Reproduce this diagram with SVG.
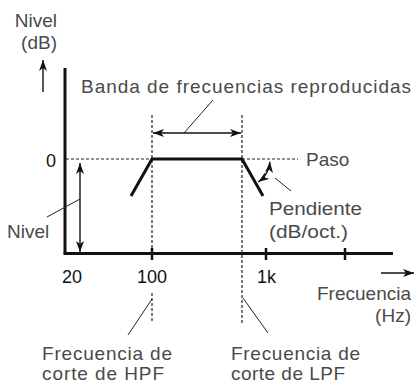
<svg xmlns="http://www.w3.org/2000/svg" width="416" height="384" viewBox="0 0 416 384">
<style>
.lbl{font-family:"Liberation Sans",Arial,sans-serif;font-size:19px;fill:#4a4a4a}
.num{font-family:"Liberation Sans",Arial,sans-serif;font-size:18px;fill:#111}
.thick{stroke:#111;stroke-width:3;fill:none}
.thin{stroke:#222;stroke-width:1;fill:none}
.dash{stroke:#222;stroke-width:1.2;fill:none;stroke-dasharray:3 2}
.arr{stroke:#111;stroke-width:1.4;fill:none}
</style>
<defs>
<marker id="ah" markerUnits="userSpaceOnUse" markerWidth="13" markerHeight="10" refX="11" refY="4" orient="auto-start-reverse" viewBox="0 0 13 10">
<path d="M0,0 L11,4 L0,8 L3,4 z" fill="#111"/>
</marker>
</defs>
<g id="axes">
<line class="thick" x1="65" y1="68" x2="65" y2="253.5"/>
<line class="thick" x1="63.5" y1="253.5" x2="393" y2="253.5"/>
<line class="thick" x1="152" y1="248" x2="152" y2="260" style="stroke-width:2.5"/>
<line class="thick" x1="266" y1="248" x2="266" y2="260" style="stroke-width:2.5"/>
<line class="thick" x1="345" y1="248" x2="345" y2="260" style="stroke-width:2.5"/>
</g>
<g id="connectors">
<line class="arr" x1="43" y1="92" x2="43" y2="60" marker-end="url(#ah)"/>
<line class="arr" x1="381" y1="273" x2="414" y2="273" marker-end="url(#ah)"/>
<line class="dash" x1="152" y1="115" x2="152" y2="252"/>
<line class="dash" x1="152" y1="293" x2="152" y2="323"/>
<line class="dash" x1="242" y1="115" x2="242" y2="323"/>
<line class="dash" x1="66" y1="159" x2="152" y2="159"/>
<line class="dash" x1="242" y1="159" x2="298" y2="159"/>
<line class="arr" x1="153" y1="133" x2="241" y2="133" marker-start="url(#ah)" marker-end="url(#ah)"/>
<line class="thin" x1="184" y1="133" x2="213" y2="100"/>
<line class="arr" x1="80" y1="163" x2="80" y2="252" marker-start="url(#ah)" marker-end="url(#ah)"/>
<line class="thin" x1="47" y1="217" x2="80" y2="199"/>
<path class="arr" d="M258.3,182 A28,28 0 0 0 270,161.7" marker-start="url(#ah)" marker-end="url(#ah)"/>
<line class="thin" x1="275" y1="178" x2="291" y2="191"/>
<line class="thin" x1="152" y1="299" x2="128" y2="335"/>
<line class="thin" x1="243" y1="298" x2="268" y2="333"/>
</g>
<g id="curve">
<polyline class="thick" points="131,196 152,159 242,159 263,196" stroke-linejoin="miter"/>
</g>
<g id="labels">
<text class="lbl" x="57" y="27" text-anchor="end">Nivel</text>
<text class="lbl" x="57" y="49" text-anchor="end">(dB)</text>
<text class="lbl" x="81" y="93" textLength="330" lengthAdjust="spacing">Banda de frecuencias reproducidas</text>
<text class="num" x="46" y="167">0</text>
<text class="lbl" x="306" y="166">Paso</text>
<text class="lbl" x="269" y="215" textLength="93" lengthAdjust="spacingAndGlyphs">Pendiente</text>
<text class="lbl" x="269" y="238" textLength="79" lengthAdjust="spacingAndGlyphs">(dB/oct.)</text>
<text class="lbl" x="7" y="238">Nivel</text>
<text class="num" x="62" y="283">20</text>
<text class="num" x="137" y="283">100</text>
<text class="num" x="257" y="283">1k</text>
<text class="lbl" x="411" y="300" text-anchor="end">Frecuencia</text>
<text class="lbl" x="411" y="322" text-anchor="end">(Hz)</text>
<text class="lbl" x="42" y="360" textLength="130" lengthAdjust="spacing">Frecuencia de</text>
<text class="lbl" x="42" y="380" textLength="122" lengthAdjust="spacing">corte de HPF</text>
<text class="lbl" x="231" y="360" textLength="129" lengthAdjust="spacing">Frecuencia de</text>
<text class="lbl" x="231" y="380" textLength="114" lengthAdjust="spacing">corte de LPF</text>
</g>
</svg>
